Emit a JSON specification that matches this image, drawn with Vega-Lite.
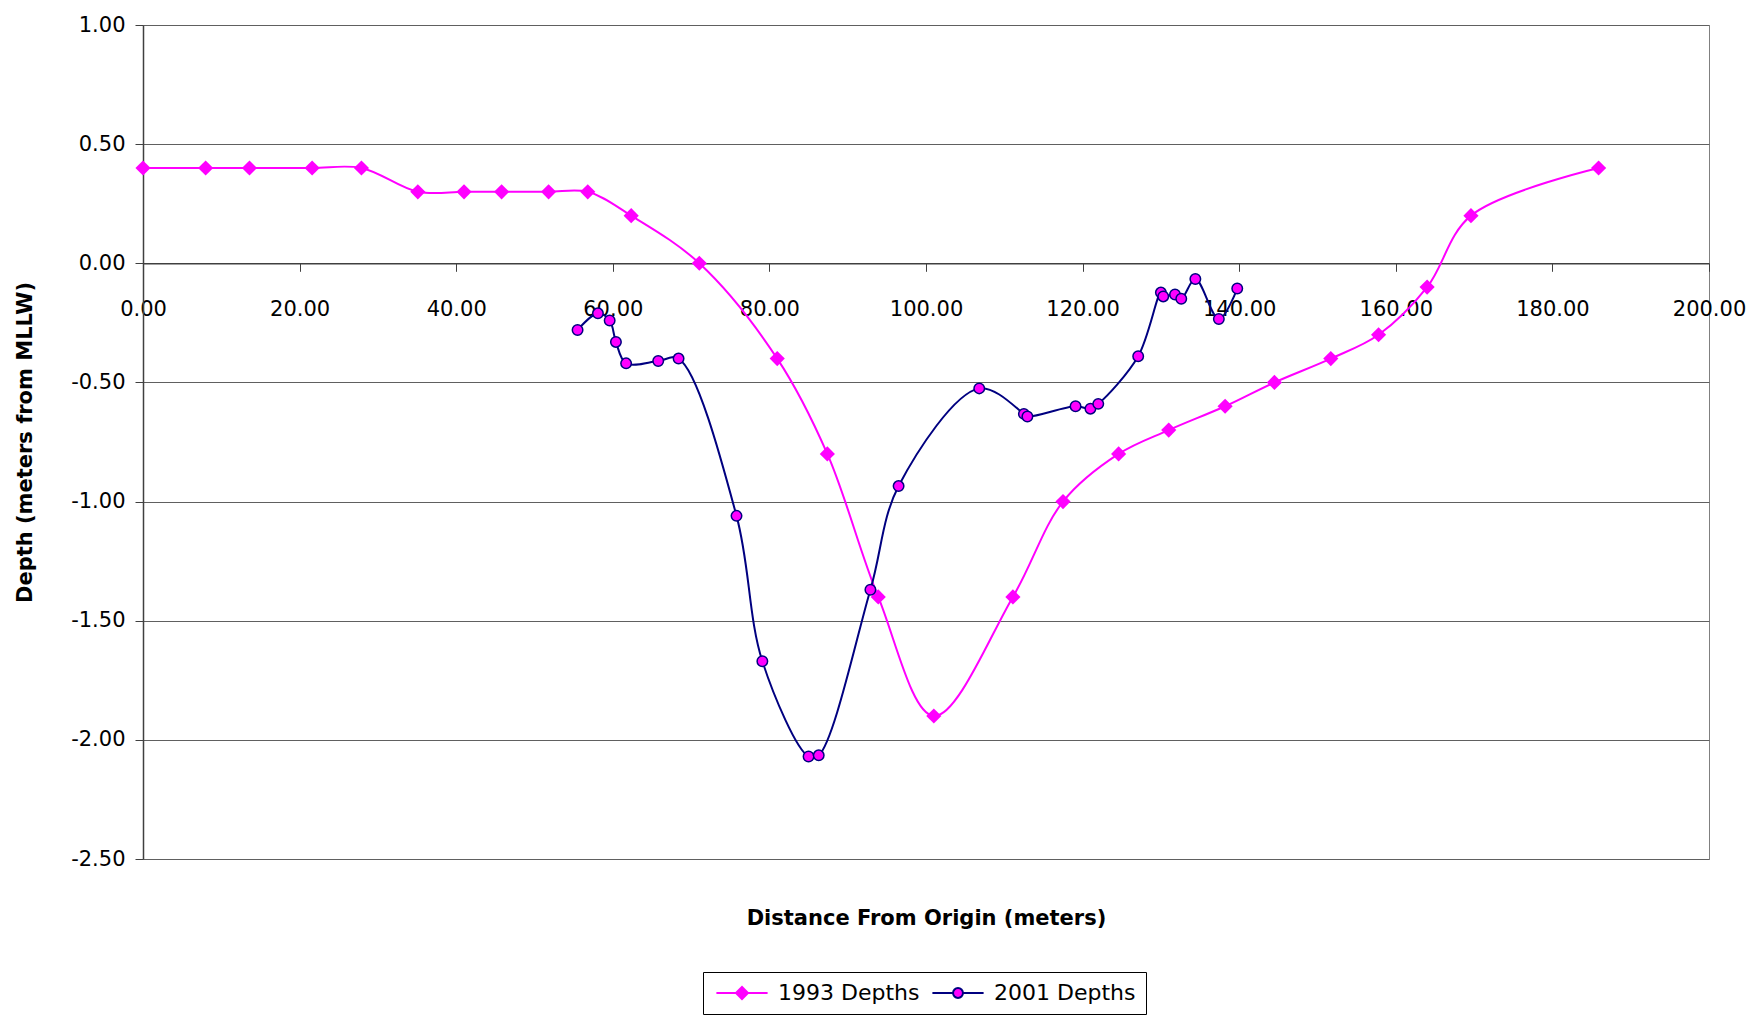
{
  "$schema": "https://vega.github.io/schema/vega-lite/v6.json",
  "width": 1566,
  "height": 834,
  "autosize": {"type": "none"},
  "padding": {"left": 143, "top": 25, "right": 45, "bottom": 160},
  "background": "white",
  "config": {
    "view": {"stroke": "#808080", "strokeWidth": 1},
    "font": "DejaVu Sans"
  },
  "datasets": {
    "depths": [
      {"series": "1993 Depths", "distance": 0.0, "depth": 0.4},
      {"series": "1993 Depths", "distance": 8.0, "depth": 0.4},
      {"series": "1993 Depths", "distance": 13.6, "depth": 0.4},
      {"series": "1993 Depths", "distance": 21.6, "depth": 0.4},
      {"series": "1993 Depths", "distance": 27.9, "depth": 0.4},
      {"series": "1993 Depths", "distance": 35.1, "depth": 0.3},
      {"series": "1993 Depths", "distance": 41.0, "depth": 0.3},
      {"series": "1993 Depths", "distance": 45.8, "depth": 0.3},
      {"series": "1993 Depths", "distance": 51.8, "depth": 0.3},
      {"series": "1993 Depths", "distance": 56.8, "depth": 0.3},
      {"series": "1993 Depths", "distance": 62.35, "depth": 0.2},
      {"series": "1993 Depths", "distance": 71.05, "depth": 0.0},
      {"series": "1993 Depths", "distance": 81.0, "depth": -0.4},
      {"series": "1993 Depths", "distance": 87.4, "depth": -0.8},
      {"series": "1993 Depths", "distance": 93.9, "depth": -1.4},
      {"series": "1993 Depths", "distance": 101.0, "depth": -1.9},
      {"series": "1993 Depths", "distance": 111.1, "depth": -1.4},
      {"series": "1993 Depths", "distance": 117.5, "depth": -1.0},
      {"series": "1993 Depths", "distance": 124.6, "depth": -0.8},
      {"series": "1993 Depths", "distance": 131.0, "depth": -0.7},
      {"series": "1993 Depths", "distance": 138.2, "depth": -0.6},
      {"series": "1993 Depths", "distance": 144.5, "depth": -0.5},
      {"series": "1993 Depths", "distance": 151.7, "depth": -0.4},
      {"series": "1993 Depths", "distance": 157.8, "depth": -0.3},
      {"series": "1993 Depths", "distance": 164.0, "depth": -0.1},
      {"series": "1993 Depths", "distance": 169.6, "depth": 0.2},
      {"series": "1993 Depths", "distance": 185.9, "depth": 0.4},
      {"series": "2001 Depths", "distance": 55.5, "depth": -0.28},
      {"series": "2001 Depths", "distance": 58.1, "depth": -0.21},
      {"series": "2001 Depths", "distance": 59.6, "depth": -0.24},
      {"series": "2001 Depths", "distance": 60.4, "depth": -0.33},
      {"series": "2001 Depths", "distance": 61.7, "depth": -0.42},
      {"series": "2001 Depths", "distance": 65.8, "depth": -0.41},
      {"series": "2001 Depths", "distance": 68.4, "depth": -0.40},
      {"series": "2001 Depths", "distance": 75.8, "depth": -1.06},
      {"series": "2001 Depths", "distance": 79.1, "depth": -1.67},
      {"series": "2001 Depths", "distance": 85.0, "depth": -2.07},
      {"series": "2001 Depths", "distance": 86.3, "depth": -2.065},
      {"series": "2001 Depths", "distance": 92.9, "depth": -1.37},
      {"series": "2001 Depths", "distance": 96.5, "depth": -0.935},
      {"series": "2001 Depths", "distance": 106.8, "depth": -0.525},
      {"series": "2001 Depths", "distance": 112.5, "depth": -0.632},
      {"series": "2001 Depths", "distance": 112.95, "depth": -0.643},
      {"series": "2001 Depths", "distance": 119.1, "depth": -0.60},
      {"series": "2001 Depths", "distance": 121.0, "depth": -0.61},
      {"series": "2001 Depths", "distance": 122.0, "depth": -0.59},
      {"series": "2001 Depths", "distance": 127.1, "depth": -0.39},
      {"series": "2001 Depths", "distance": 130.0, "depth": -0.123},
      {"series": "2001 Depths", "distance": 130.3, "depth": -0.139},
      {"series": "2001 Depths", "distance": 131.8, "depth": -0.131},
      {"series": "2001 Depths", "distance": 132.6, "depth": -0.149},
      {"series": "2001 Depths", "distance": 134.4, "depth": -0.066},
      {"series": "2001 Depths", "distance": 137.4, "depth": -0.234},
      {"series": "2001 Depths", "distance": 139.75, "depth": -0.106}
    ]
  },
  "data": {"name": "depths"},
  "encoding": {
    "x": {
      "field": "distance",
      "type": "quantitative",
      "scale": {"domain": [0, 200], "nice": false, "zero": false},
      "axis": {
        "values": [0, 20, 40, 60, 80, 100, 120, 140, 160, 180, 200],
        "format": ".2f",
        "offset": -595.7,
        "grid": false,
        "domainColor": "#404040",
        "domainWidth": 1.5,
        "tickColor": "#404040",
        "tickSize": 8,
        "tickWidth": 1,
        "labelFont": "DejaVu Sans",
        "labelFontSize": 21,
        "labelColor": "black",
        "labelPadding": 27,
        "labelFlush": false,
        "labelOverlap": false,
        "title": "Distance From Origin (meters)",
        "titleFont": "DejaVu Sans",
        "titleFontSize": 21,
        "titleFontWeight": "bold",
        "titleColor": "black",
        "titleX": 783,
        "titleY": 655,
        "titleBaseline": "middle",
        "titleAlign": "center"
      }
    },
    "y": {
      "field": "depth",
      "type": "quantitative",
      "scale": {"domain": [-2.5, 1], "nice": false, "zero": false},
      "axis": {
        "values": [-2.5, -2, -1.5, -1, -0.5, 0, 0.5, 1],
        "labelExpr": "replace(format(datum.value, '.2f'), '\u2212', '-')",
        "grid": true,
        "gridColor": "#606060",
        "gridWidth": 1,
        "domainColor": "#404040",
        "domainWidth": 1.5,
        "tickColor": "#404040",
        "tickSize": 8,
        "tickWidth": 1,
        "labelFont": "DejaVu Sans",
        "labelFontSize": 21,
        "labelColor": "black",
        "labelPadding": 10,
        "labelOverlap": false,
        "labelFlush": false,
        "title": "Depth (meters from MLLW)",
        "titleFont": "DejaVu Sans",
        "titleFontSize": 21,
        "titleFontWeight": "bold",
        "titleColor": "black",
        "titleX": -118,
        "titleY": 417,
        "titleAngle": -90,
        "titleBaseline": "middle",
        "titleAlign": "center"
      }
    }
  },
  "layer": [
    {
      "transform": [{"filter": "datum.series === '1993 Depths'"}],
      "mark": {"type": "line", "interpolate": "catmull-rom", "strokeWidth": 2},
      "encoding": {
        "color": {
          "field": "series",
          "type": "nominal",
          "scale": {"domain": ["1993 Depths", "2001 Depths"], "range": ["#FF00FF", "#000080"]},
          "legend": {
            "title": null,
            "orient": "none",
            "legendX": 560,
            "legendY": 947,
            "direction": "horizontal",
            "padding": 10,
            "strokeColor": "black",
            "fillColor": "white",
            "labelFont": "DejaVu Sans",
            "labelFontSize": 22,
            "labelColor": "black",
            "symbolSize": 256,
            "symbolStrokeWidth": 2,
            "symbolOffset": 18,
            "labelOffset": 25,
            "columnPadding": 8,
            "encode": {
              "symbols": {
                "update": {
                  "shape": {"signal": "datum.value === '1993 Depths' ? 'M-3.2,0L3.2,0M-0.75,0L0,-0.75L0.75,0L0,0.75Z' : 'M-3.2,0L-0.62,0M0.62,0L3.2,0M-0.62,0A0.62,0.62,0,1,0,0.62,0A0.62,0.62,0,1,0,-0.62,0Z'"},
                  "fill": {"signal": "'#FF00FF'"},
                  "stroke": {"signal": "datum.value === '1993 Depths' ? '#FF00FF' : '#000080'"},
                  "strokeWidth": {"value": 2},
                  "size": {"value": 256},
                  "opacity": {"value": 1}
                }
              }
            }
          }
        }
      }
    },
    {
      "transform": [{"filter": "datum.series === '1993 Depths'"}],
      "mark": {"type": "point", "shape": "diamond", "filled": true, "color": "#FF00FF", "size": 230, "opacity": 1}
    },
    {
      "transform": [{"filter": "datum.series === '2001 Depths'"}],
      "mark": {"type": "line", "interpolate": "catmull-rom", "strokeWidth": 2},
      "encoding": {
        "color": {"field": "series", "type": "nominal"}
      }
    },
    {
      "transform": [{"filter": "datum.series === '2001 Depths'"}],
      "mark": {"type": "point", "shape": "circle", "filled": true, "fill": "#FF00FF", "stroke": "#000080", "strokeWidth": 1.5, "size": 110, "opacity": 1}
    }
  ]
}
